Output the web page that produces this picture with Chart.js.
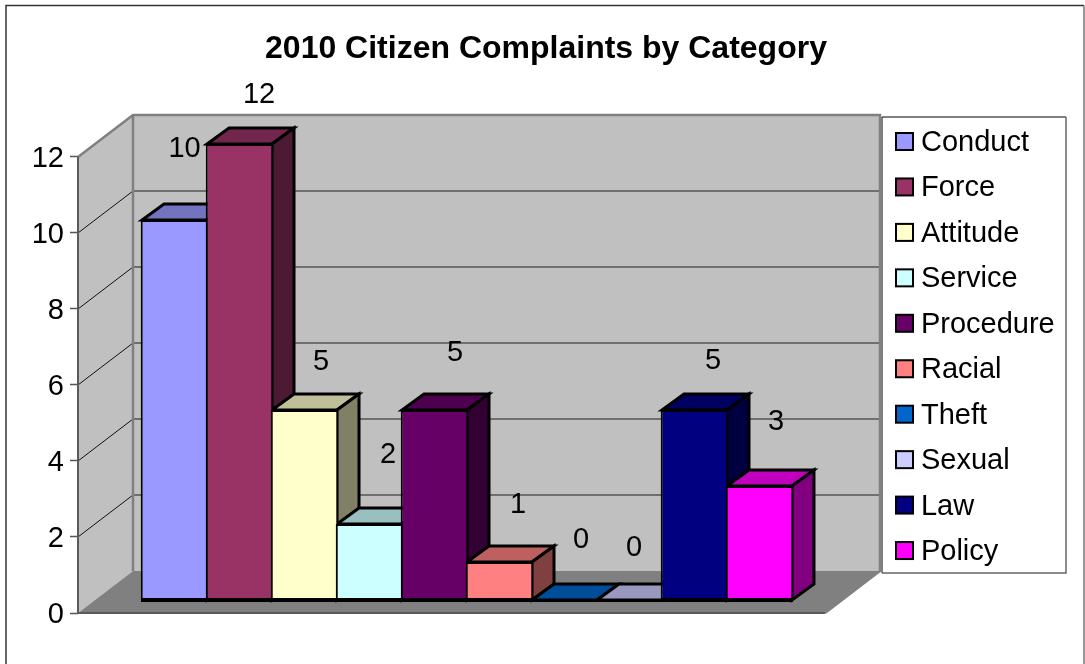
<!DOCTYPE html>
<html>
<head>
<meta charset="utf-8">
<title>2010 Citizen Complaints by Category</title>
<script src="https://cdn.jsdelivr.net/npm/chart.js@4/dist/chart.umd.min.js"></script>
<style>
  html, body { margin: 0; padding: 0; background: #fff; }
  canvas { display: block; }
</style>
</head>
<body>
<canvas id="myChart" width="1085" height="664"></canvas>
<script>
// values
const categories = ["Conduct", "Force", "Attitude", "Service", "Procedure", "Racial", "Theft", "Sexual", "Law", "Policy"];
const complaints = [10, 12, 5, 2, 5, 1, 0, 0, 5, 3];
const yTicks = [0, 2, 4, 6, 8, 10, 12];
const barColors = ["#9999ff", "#993366", "#ffffcc", "#ccffff", "#660066", "#ff8080", "#0066cc", "#ccccff", "#000080", "#ff00ff"];

// the labels sit at odd spots in the original, offset from each bar top
const labelDx = [10, 19.5, 16.5, 18.5, 20.5, 18.5, 16.5, 4.5, 18.5, 16.5];
const labelDy = [-73, -51, -50, -71, -59, -59, -62, -54, -51, -66];

const FONT = "'Liberation Sans', Arial, sans-serif";
const wallDx = 55, wallDy = -42; // depth of the box
const barDx = 22, barDy = -16;   // depth of a bar
const legendBox = { left: 882, top: 117, right: 1066, bottom: 573 };

function shade(hex, k) {
  const n = parseInt(hex.slice(1), 16);
  const c = [n >> 16, (n >> 8) & 255, n & 255].map((v) => Math.round(v * k));
  return "rgb(" + c.join(",") + ")";
}

function poly(ctx, pts, fill, stroke, lw) {
  ctx.beginPath();
  pts.forEach((p, i) => (i ? ctx.lineTo(p[0], p[1]) : ctx.moveTo(p[0], p[1])));
  ctx.closePath();
  if (fill) { ctx.fillStyle = fill; ctx.fill(); }
  if (stroke) { ctx.strokeStyle = stroke; ctx.lineWidth = lw; ctx.stroke(); }
}

function line(ctx, pts, color, lw) {
  ctx.beginPath();
  pts.forEach((p, i) => (i ? ctx.lineTo(p[0], p[1]) : ctx.moveTo(p[0], p[1])));
  ctx.strokeStyle = color;
  ctx.lineWidth = lw;
  ctx.stroke();
}

const box3d = {
  id: "box3d",
  afterLayout(chart) {
    // title and legend are placed by hand, the layout only sets the plot
    const t = chart.titleBlock;
    t.left = 265; t.right = 827;
    const l = chart.legend;
    l.left = legendBox.left - 2; l.right = legendBox.right;
    l.top = 113; l.bottom = 700;
    // digits sit high on a middle baseline, nudge the tick labels onto their marks
    chart.scales.y1.getLabelItems().forEach((it) => { it.textOffset += 2; });
  },
  beforeDraw(chart) {
    const ctx = chart.ctx;
    ctx.save();
    ctx.fillStyle = "#fff";
    ctx.fillRect(0, 0, chart.width, chart.height);
    line(ctx, [[6, 664], [6, 5.5], [1084, 5.5]], "#333", 1.5);
    line(ctx, [[1084, 5.5], [1084, 664]], "#777", 1.5);
    // legend frame
    const b = legendBox;
    line(ctx, [[b.left, b.bottom], [b.left, b.top], [b.right, b.top]], "#000", 1);
    line(ctx, [[b.right, b.top], [b.right, b.bottom], [b.left, b.bottom]], "#666", 1.5);
    ctx.restore();
  },
  beforeDatasetsDraw(chart) {
    const ctx = chart.ctx;
    const { left, right } = chart.chartArea;
    const sy = chart.scales.y1;
    const y0 = sy.getPixelForValue(0);
    const yTop = sy.getPixelForValue(12);
    const backL = left + wallDx, backR = right + wallDx;
    ctx.save();
    // walls
    poly(ctx, [[backL, yTop + wallDy], [backR, yTop + wallDy], [backR, y0 + wallDy], [backL, y0 + wallDy]], "#c0c0c0");
    poly(ctx, [[left, yTop], [backL, yTop + wallDy], [backL, y0 + wallDy], [left, y0]], "#c0c0c0");
    // grid lines run along the side wall then the back wall
    yTicks.slice(1, -1).forEach((v) => {
      const p = sy.getPixelForValue(v);
      line(ctx, [[left, p], [backL, p + wallDy]], "#111", 1);
      line(ctx, [[backL, p + wallDy], [backR, p + wallDy]], "#555", 1.5);
    });
    // floor
    poly(ctx, [[left, y0], [backL, y0 + wallDy], [backR, y0 + wallDy], [right, y0]], "#808080");
    // box edges
    line(ctx, [[left, yTop], [backL, yTop + wallDy], [backR, yTop + wallDy], [backR, y0 + wallDy], [right, y0]], "#808080", 2.5);
    line(ctx, [[backL, yTop + wallDy], [backL, y0 + wallDy]], "#808080", 2.5);
    line(ctx, [[left, yTop], [left, y0], [right, y0]], "#5a5a5a", 2);
    // bar tops and sides, left to right so nearer ones cover
    chart.getDatasetMeta(0).data.forEach((el, i) => {
      const x1 = el.x - 32.5, x2 = el.x + 32.5, top = el.y, base = el.base;
      poly(ctx, [[x1, top], [x2, top], [x2 + barDx, top + barDy], [x1 + barDx, top + barDy]], shade(barColors[i], 0.75), "#000", 3);
      if (base > top) {
        poly(ctx, [[x2, top], [x2 + barDx, top + barDy], [x2 + barDx, base + barDy], [x2, base]], shade(barColors[i], 0.5), "#000", 3);
      }
    });
    ctx.restore();
  },
  afterDatasetsDraw(chart) {
    const ctx = chart.ctx;
    ctx.save();
    const bars = chart.getDatasetMeta(0).data;
    // the fronts get their border inset, so finish the base line on its centre
    line(ctx, [[bars[0].x - 33.5, bars[0].base + 0.5], [bars[9].x + 33.5, bars[9].base + 0.5]], "#000", 3);
    // data labels
    ctx.font = "29px " + FONT;
    ctx.fillStyle = "#000";
    ctx.textAlign = "center";
    ctx.textBaseline = "middle";
    bars.forEach((el, i) => {
      ctx.fillText(String(complaints[i]), el.x + labelDx[i], el.y + labelDy[i] + 2);
    });
    ctx.restore();
  },
  afterDraw(chart) {
    // legend swatches: Chart.js ties the text gap to the font size, so the
    // boxes are drawn here and the built-in ones stay empty
    const ctx = chart.ctx;
    ctx.save();
    categories.forEach((c, i) => {
      const y = 133 + i * 45.45;
      ctx.fillStyle = barColors[i];
      ctx.fillRect(896, y, 17, 17);
      ctx.strokeStyle = "#000";
      ctx.lineWidth = 2;
      ctx.strokeRect(896, y, 17, 17);
    });
    ctx.restore();
  },
};

const myChart = new Chart(document.getElementById("myChart"), {
  type: "bar",
  data: {
    labels: categories,
    datasets: [
      {
        label: "Complaints",
        data: complaints.map((v, i) => ({ x: i, y: v })),
        backgroundColor: barColors,
        borderColor: "#000",
        borderWidth: 2,
        borderSkipped: false,
        inflateAmount: 0,
        barPercentage: 1.04,
        categoryPercentage: 1,
        yAxisID: "y",
      },
    ],
  },
  options: {
    responsive: false,
    animation: false,
    layout: { padding: { left: 0, right: 260, top: 30, bottom: 51 } },
    scales: {
      x: { type: "linear", display: false, offset: false, min: -1.485, max: 10.008 },
      // bars stand a little above the axis floor, so they get their own hidden scale
      y: { display: false, min: -0.342, max: 12 },
      y1: {
        position: "left",
        min: 0,
        max: 12.342,
        afterFit(scale) { scale.width = 78; },
        border: { display: false },
        grid: { drawOnChartArea: false, tickLength: 8, tickColor: "#555", tickWidth: 1.5 },
        ticks: {
          stepSize: 2,
          includeBounds: false,
          padding: 6,
          color: "#000",
          font: { family: FONT, size: 29 },
        },
      },
    },
    plugins: {
      title: {
        display: true,
        text: "2010 Citizen Complaints by Category",
        color: "#000",
        font: { family: FONT, size: 32, weight: "bold" },
        padding: { top: 0, bottom: 75.6 },
      },
      legend: {
        position: "chartArea",
        align: "start",
        display: true,
        labels: {
          boxWidth: 12,
          boxHeight: 31,
          padding: 14.45,
          color: "#000",
          font: { family: FONT, size: 29 },
          generateLabels() {
            return categories.map((c, i) => ({
              text: c,
              fontColor: "#000",
              fillStyle: "transparent",
              strokeStyle: "transparent",
              lineWidth: 0,
              index: i,
            }));
          },
        },
      },
      tooltip: { enabled: false },
    },
  },
  plugins: [box3d],
});
</script>
</body>
</html>
